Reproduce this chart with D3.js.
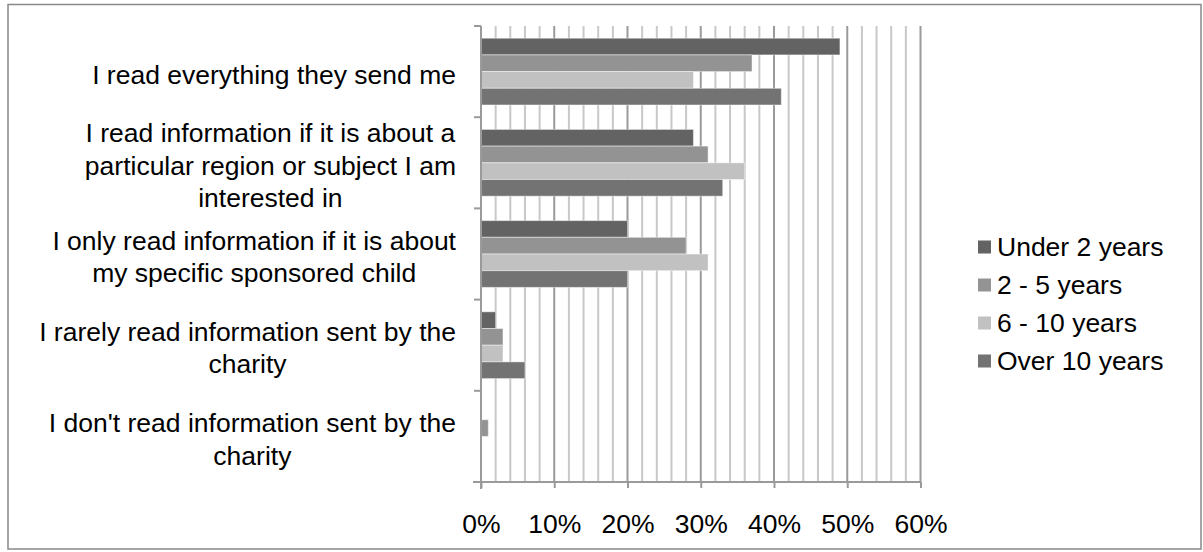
<!DOCTYPE html>
<html>
<head>
<meta charset="utf-8">
<script src="https://cdn.jsdelivr.net/npm/d3@7"></script>
<style>
  html, body { margin: 0; padding: 0; background: #fff; }
  svg { display: block; }
  text { font-family: "Liberation Sans", Arial, sans-serif; fill: #000; }
</style>
</head>
<body>
<svg id="chart" width="1203" height="552"></svg>
<script>
// Survey responses by length of sponsorship
const categories = [
  "I read everything they send me",
  "I read information if it is about a particular region or subject I am interested in",
  "I only read information if it is about my specific sponsored child",
  "I rarely read information sent by the charity",
  "I don't read information sent by the charity"
];
// Wrapped lines for each category label
const categoryLines = [
  ["I read everything they send me"],
  ["I read information if it is about a", "particular region or subject I am", "interested in"],
  ["I only read information if it is about", "my specific sponsored child"],
  ["I rarely read information sent by the", "charity"],
  ["I don't read information sent by the", "charity"]
];
const seriesNames = ["Under 2 years", "2 - 5 years", "6 - 10 years", "Over 10 years"];
const under2 = [0.49, 0.29, 0.20, 0.02, 0.00];
const twoToFive = [0.37, 0.31, 0.28, 0.03, 0.01];
const sixToTen = [0.29, 0.36, 0.31, 0.03, 0.00];
const over10 = [0.41, 0.33, 0.20, 0.06, 0.00];
const xTicks = [0, 0.1, 0.2, 0.3, 0.4, 0.5, 0.6];
const seriesColors = ["#636363", "#939393", "#c1c1c1", "#737373"];

const seriesValues = [under2, twoToFive, sixToTen, over10];
const fontSize = 26.5;

const svg = d3.select("#chart");

// Outer frame
svg.append("rect")
  .attr("x", 8).attr("y", 4.5).attr("width", 1193).attr("height", 544.5)
  .attr("fill", "none").attr("stroke", "#888").attr("stroke-width", 1.5);

const plotLeft = 481, plotRight = 920.5, plotTop = 26, plotBottom = 482;

const x = d3.scaleLinear().domain([0, 0.6]).range([plotLeft, plotRight]);
const y = d3.scaleBand().domain(categories).range([plotTop, plotBottom])
  .paddingInner(0.268).paddingOuter(0.134);
const ySub = d3.scaleBand().domain(seriesNames).range([0, y.bandwidth()]);

// Minor gridlines every 2%
const minor = d3.range(1, 31).filter(k => k % 5 !== 0).map(k => k * 0.02);
svg.append("g").selectAll("line").data(minor).join("line")
  .attr("x1", d => x(d)).attr("x2", d => x(d))
  .attr("y1", plotTop).attr("y2", plotBottom)
  .attr("stroke", "#c8c8c8").attr("stroke-width", 2);

// Major gridlines every 10%
svg.append("g").selectAll("line").data(xTicks.slice(1)).join("line")
  .attr("x1", d => x(d)).attr("x2", d => x(d))
  .attr("y1", plotTop).attr("y2", plotBottom)
  .attr("stroke", "#9a9a9a").attr("stroke-width", 2);

// Bars
const groups = svg.append("g").selectAll("g").data(categories).join("g")
  .attr("transform", c => `translate(0,${y(c)})`);
groups.selectAll("rect")
  .data((c, i) => seriesNames.map((s, j) => ({ s, j, v: seriesValues[j][i] })).filter(d => d.v > 0))
  .join("rect")
  .attr("x", x(0))
  .attr("y", d => ySub(d.s))
  .attr("width", d => x(d.v) - x(0))
  .attr("height", ySub.bandwidth())
  .attr("fill", d => seriesColors[d.j])
  .attr("stroke", "rgba(255,255,255,0.45)")
  .attr("stroke-width", 1);

// X axis
const xAxis = d3.axisBottom(x).tickValues(xTicks).tickFormat(d3.format(".0%"))
  .tickSize(6).tickPadding(26);
const gx = svg.append("g").attr("transform", `translate(0,${plotBottom})`).call(xAxis);
gx.select(".domain").attr("stroke", "#9a9a9a").attr("stroke-width", 2)
  .attr("d", `M${plotLeft - 8},0H${plotRight}`);
gx.selectAll(".tick line").attr("stroke", "#9a9a9a").attr("stroke-width", 2);
gx.selectAll(".tick text").attr("font-size", fontSize).attr("font-family", "Liberation Sans, Arial, sans-serif")
  .attr("fill", "#000");

// Y axis: line and ticks at category boundaries
const step = y.step();
const boundaries = d3.range(categories.length + 1).map(i => plotTop + i * step);
svg.append("line").attr("x1", plotLeft).attr("x2", plotLeft).attr("y1", plotTop).attr("y2", plotBottom + 7)
  .attr("stroke", "#9a9a9a").attr("stroke-width", 2);
svg.append("g").selectAll("line").data(boundaries).join("line")
  .attr("x1", plotLeft - 7).attr("x2", plotLeft).attr("y1", d => d).attr("y2", d => d)
  .attr("stroke", "#9a9a9a").attr("stroke-width", 2);

// Category labels: lines centred within a right-aligned block
const labelRight = 456;
const lineH = 32.5;
categories.forEach((c, i) => {
  const lines = categoryLines[i];
  const cy = y(c) + y.bandwidth() / 2 + 3;
  const g = svg.append("g");
  const texts = g.selectAll("text").data(lines).join("text")
    .attr("font-size", fontSize)
    .attr("text-anchor", "middle")
    .attr("y", (d, k) => cy + (k - (lines.length - 1) / 2) * lineH + 9)
    .text(d => d);
  let maxW = 0;
  texts.each(function () { maxW = Math.max(maxW, this.getComputedTextLength()); });
  texts.attr("x", labelRight - maxW / 2);
});

// Legend
const legend = svg.append("g").selectAll("g").data(seriesNames).join("g")
  .attr("transform", (d, i) => `translate(978,${247 + i * 38})`);
legend.append("rect").attr("x", 0).attr("y", -6.5).attr("width", 13).attr("height", 13)
  .attr("fill", (d, i) => seriesColors[i]);
legend.append("text").attr("x", 19).attr("y", 9).attr("font-size", fontSize).text(d => d);
</script>
</body>
</html>
